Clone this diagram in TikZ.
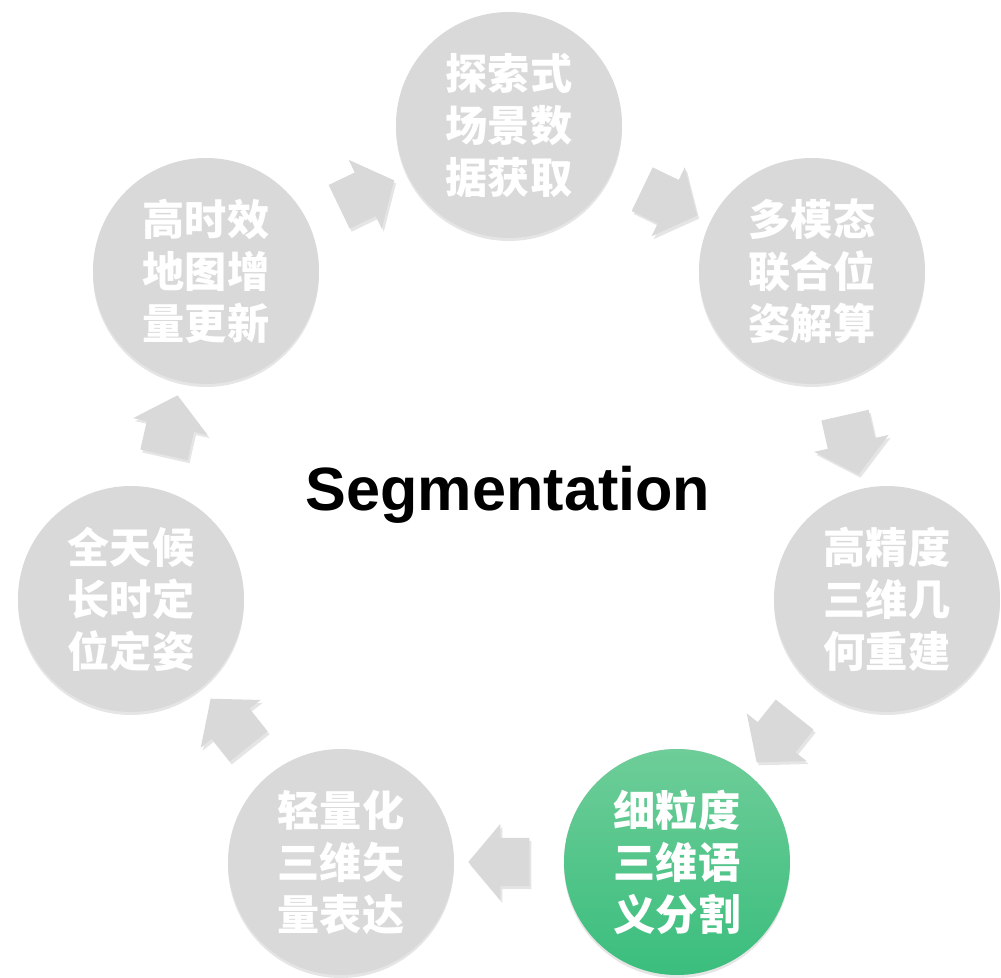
\documentclass[tikz,border=0pt]{standalone}
\usepackage{fontspec}
\setmainfont{Liberation Sans}
\newfontfamily\cjk{Noto Sans CJK SC}
\usetikzlibrary{shapes.arrows, shadows, calc, positioning}

\definecolor{stagegray}{RGB}{217,217,217}
\definecolor{greentop}{RGB}{110,205,152}
\definecolor{greenbot}{RGB}{58,190,125}

\begin{document}
\begin{tikzpicture}[
    stage/.style={circle, fill=stagegray, minimum size=2.26cm, inner sep=0pt, text=white, align=center, font=\cjk\bfseries\fontsize{12}{14.8}\selectfont, drop shadow={shadow xshift=0pt, shadow yshift=-0.03cm, opacity=0.2}},
    active/.style={stage, top color=greentop, bottom color=greenbot},
    flow/.style={single arrow, fill=stagegray, minimum height=0.61cm, inner xsep=0pt, inner ysep=0.235cm, single arrow head extend=0.14cm, single arrow tip angle=100, drop shadow={shadow xshift=0.02cm, shadow yshift=-0.03cm, opacity=0.2}},
    title/.style={font=\bfseries\fontsize{17.4}{20}\selectfont}
]

% White Background
\path [fill=white] (-5.09, -4.65) rectangle (4.92, 5.13);
\useasboundingbox (-5.09, -4.65) rectangle (4.92, 5.13);

% ==================== STAGES (CLOCKWISE) ====================

\node[stage] (explore) at (0, 3.88) {探索式\\场景数\\据获取};
\node[stage] (pose) at (3.03, 2.42) {多模态\\联合位\\姿解算};
\node[stage] (recon) at (3.78, -0.86) {高精度\\三维几\\何重建};
\node[active] (seg) at (1.68, -3.49) {细粒度\\三维语\\义分割};
\node[stage] (vector) at (-1.68, -3.49) {轻量化\\三维矢\\量表达};
\node[stage] (locate) at (-3.78, -0.86) {全天候\\长时定\\位定姿};
\node[stage] (update) at (-3.03, 2.42) {高时效\\地图增\\量更新};

% Centre label
\node[title] (center) at (-0.01, 0.18) {Segmentation};

% ==================== BLOCK ARROWS ====================

\node[flow, rotate=-25.71] (a1) at ($(explore)!0.5!(pose)$) {};
\node[flow, rotate=-77.14] (a2) at ($(pose)!0.5!(recon)$) {};
\node[flow, rotate=-128.57] (a3) at ($(recon)!0.5!(seg)$) {};
\node[flow, rotate=180] (a4) at ($(seg)!0.5!(vector)$) {};
\node[flow, rotate=128.57] (a5) at ($(vector)!0.5!(locate)$) {};
\node[flow, rotate=77.14] (a6) at ($(locate)!0.5!(update)$) {};
\node[flow, rotate=25.71] (a7) at ($(update)!0.5!(explore)$) {};

\end{tikzpicture}
\end{document}
